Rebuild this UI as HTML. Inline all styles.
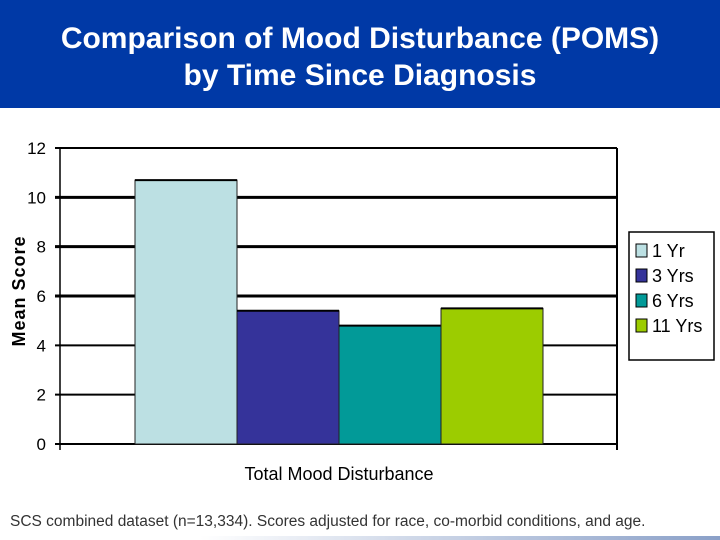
<!DOCTYPE html>
<html><head><meta charset="utf-8"><style>
body{margin:0;width:720px;height:540px;background:#fff;overflow:hidden;font-family:"Liberation Sans",sans-serif;position:relative}
#hdr{position:absolute;left:0;top:0;width:720px;height:108px;background:#0039a6;color:#fff;text-align:center;font-weight:bold;font-size:30px;line-height:37px;padding-top:20px;box-sizing:border-box}
#foot{position:absolute;left:10px;top:513px;font-size:15.5px;color:#333}
#line{position:absolute;left:200px;top:536px;width:520px;height:4px;background:linear-gradient(90deg,#fff,#8aa0c8)}
</style></head><body>
<div id="hdr">Comparison of Mood Disturbance (POMS)<br>by Time Since Diagnosis</div>
<svg id="chart" width="720" height="540" style="position:absolute;left:0;top:0"></svg>
<div id="foot">SCS combined dataset (n=13,334). Scores adjusted for race, co-morbid conditions, and age.</div>
<div id="line"></div>
<script>
const categories = ["1 Yr","3 Yrs","6 Yrs","11 Yrs"];
const values = [10.7,5.4,4.8,5.5];
const colors = ["#bce0e3","#35339a","#029a98","#9ccc00"];
const yTicks = [0,2,4,6,8,10,12];
const NS="http://www.w3.org/2000/svg";
const svg=document.getElementById('chart');
const L=60,R=617,T=148,B=444,ymax=12;
const y=v=>B-(v/ymax)*(B-T);
const bx0=135,bw=102;
const x=i=>bx0+i*bw;
function mk(t,a){const e=document.createElementNS(NS,t);for(const k in a)e.setAttribute(k,a[k]);svg.appendChild(e);return e;}
yTicks.forEach(v=>{
 const g=mk('line',{x1:L-5,x2:R,y1:y(v),y2:y(v),stroke:'#000','stroke-width':v>=6&&v<12?3:2});
 
 
 const t=mk('text',{x:L-14,y:y(v)+6,'text-anchor':'end','font-size':17,'font-family':'Liberation Sans, sans-serif'});
 t.textContent=v;
 
 
});
const ax=mk('line',{x1:L,x2:L,y1:T,y2:B+6,stroke:'#000','stroke-width':1.5});


const rb=mk('line',{x1:R,x2:R,y1:T,y2:B+6,stroke:'#000','stroke-width':2});


values.forEach((v,i)=>{
 const r=mk('rect',{x:x(i),y:y(v),width:bw,height:B-y(v),fill:colors[i],stroke:'#222','stroke-width':1});
 
 
 const tp=mk('line',{x1:x(i),x2:x(i)+bw,y1:y(v),y2:y(v),stroke:'#000','stroke-width':2});
 
 
});
const yt=mk('text',{x:0,y:0,transform:'translate(25,291) rotate(-90)','text-anchor':'middle','font-size':18,'font-weight':'bold','letter-spacing':'1','font-family':'Liberation Sans, sans-serif'});
yt.textContent='Mean  Score';


const xt=mk('text',{x:339,y:480,'text-anchor':'middle','font-size':18,'font-family':'Liberation Sans, sans-serif'});
xt.textContent='Total Mood Disturbance';


const lb=mk('rect',{x:629,y:232,width:85,height:128,fill:'#fff',stroke:'#000','stroke-width':1.5});


categories.forEach((c,i)=>{
 const yy=244+i*25;
 const s=mk('rect',{x:636,y:yy,width:11,height:13,fill:colors[i],stroke:'#000','stroke-width':1});
 
 
 const t=mk('text',{x:652,y:yy+13,'font-size':18,'font-family':'Liberation Sans, sans-serif'});
 t.textContent=c;
 
 
});
</script>
</body></html>
